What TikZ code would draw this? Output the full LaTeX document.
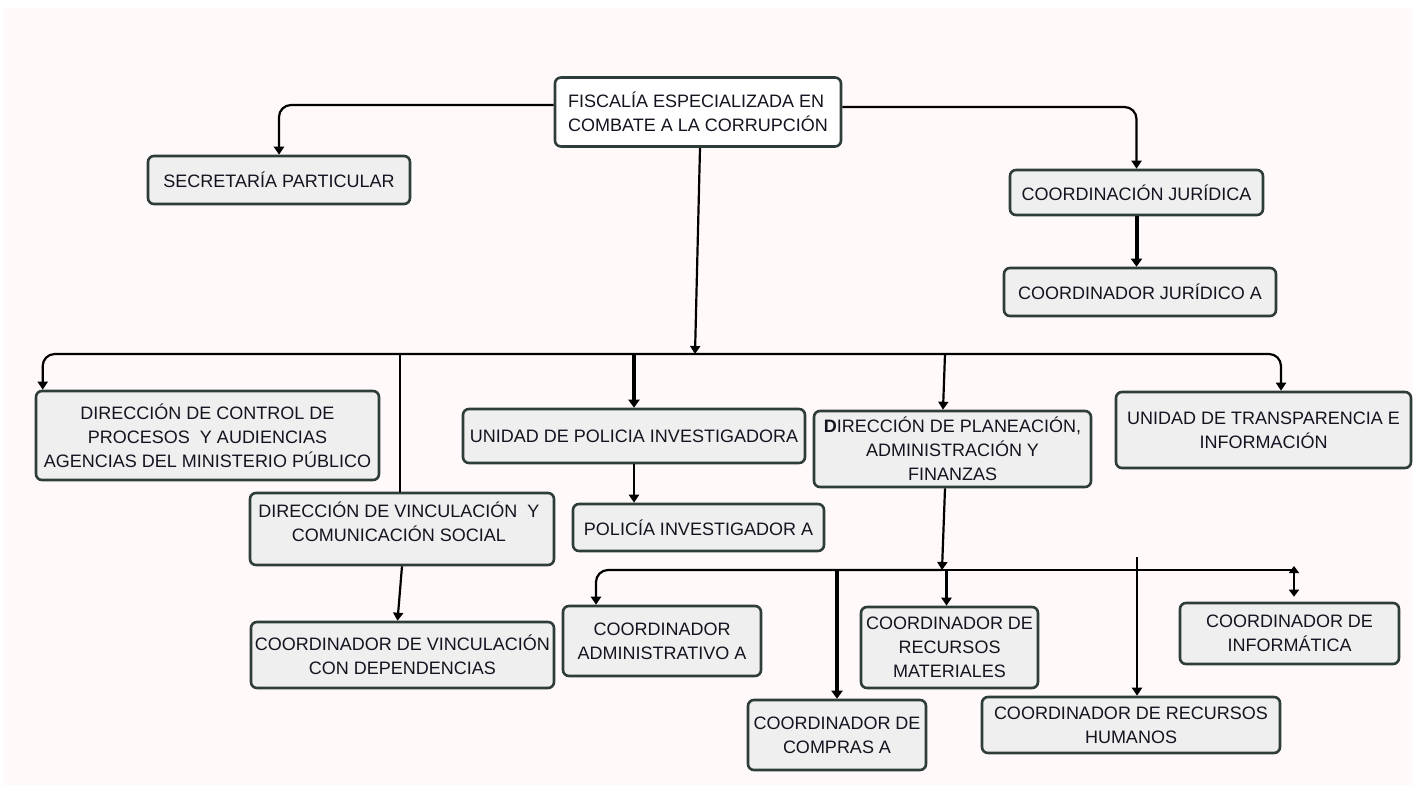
\documentclass[tikz,border=0pt]{standalone}
\usepackage{fontspec}
\setmainfont{Liberation Sans}
\usetikzlibrary{arrows.meta}
\definecolor{bg}{HTML}{FFFAF9}
\definecolor{bord}{HTML}{2E3D39}
\definecolor{boxfill}{HTML}{EFEFEF}
\definecolor{txt}{HTML}{141420}
\begin{document}
\begin{tikzpicture}[x=1pt,y=-1pt,
  box/.style={draw=bord, line width=2.6pt, fill=boxfill, rounded corners=6pt, inner sep=0pt, align=center, text=txt, font=\fontsize{18}{24}\selectfont},
  boxtext/.style={inner sep=0pt, align=center, text=txt, font=\fontsize{18}{24}\selectfont},
  conn/.style={line width=2.2pt, black},
  arr/.style={conn, -{Triangle[width=10pt,length=8pt]}},
  arrthick/.style={line width=4pt, black, -{Triangle[width=11pt,length=8pt]}},
  roundbend/.style={rounded corners=12pt}]
\useasboundingbox (0,0) rectangle (1413,785);
\fill[white] (0,0) rectangle (1413,785);
\fill[bg] (3,8) rectangle (1413,785);

\node[box, fill=white, align=left, minimum width=286pt, minimum height=69pt] (fisc) at (698,112) {FISCALÍA ESPECIALIZADA EN\\COMBATE A LA CORRUPCIÓN};
\node[box, minimum width=262pt, minimum height=48pt] (sec) at (279,180) {SECRETARÍA PARTICULAR};
\node[box, minimum width=253pt, minimum height=45pt] (cj) at (1136.5,192.5) {COORDINACIÓN JURÍDICA};
\node[box, minimum width=272pt, minimum height=48pt] (cja) at (1140,292) {COORDINADOR JURÍDICO A};
\node[box, minimum width=343pt, minimum height=89pt] (dcp) at (207.5,435.5) {DIRECCIÓN DE CONTROL DE\\PROCESOS~ Y AUDIENCIAS\\AGENCIAS DEL MINISTERIO PÚBLICO};
\node[box, minimum width=304pt, minimum height=72pt] (dvc) at (402,529) {};
\node[boxtext] (dvct) at (399,522) {DIRECCIÓN DE VINCULACIÓN~ Y\\COMUNICACIÓN SOCIAL};
\node[box, minimum width=342pt, minimum height=54pt] (upi) at (634,436) {UNIDAD DE POLICIA INVESTIGADORA};
\node[box, minimum width=251pt, minimum height=47pt] (pia) at (698.5,527.5) {POLICÍA INVESTIGADOR A};
\node[box, minimum width=277pt, minimum height=76pt] (dpa) at (952.5,449) {{\bfseries D}IRECCIÓN DE PLANEACIÓN,\\ADMINISTRACIÓN Y\\FINANZAS};
\node[box, minimum width=295pt, minimum height=76pt] (ute) at (1263.5,430) {UNIDAD DE TRANSPARENCIA E\\INFORMACIÓN};
\node[box, minimum width=303pt, minimum height=66pt] (cvd) at (402.5,655) {COORDINADOR DE VINCULACIÓN\\CON DEPENDENCIAS};
\node[box, minimum width=198pt, minimum height=70pt] (cad) at (662,641) {COORDINADOR\\ADMINISTRATIVO A};
\node[box, minimum width=178pt, minimum height=70pt] (cca) at (837,735) {COORDINADOR DE\\COMPRAS A};
\node[box, minimum width=177pt, minimum height=81pt] (crm) at (949.5,647.5) {COORDINADOR DE\\RECURSOS\\MATERIALES};
\node[box, minimum width=298pt, minimum height=56pt] (crh) at (1131,725) {COORDINADOR DE RECURSOS\\HUMANOS};
\node[box, minimum width=219pt, minimum height=61pt] (cinf) at (1289.5,633.5) {COORDINADOR DE\\INFORMÁTICA};

\coordinate (bus1) at (695,354);
\coordinate (bus2) at (942,570);

\draw[arr, roundbend] ([yshift=7pt]fisc.west) -| (sec.north);
\draw[arr, roundbend] ([yshift=5pt]fisc.east) -| (cj.north);
\draw[arrthick] (cj.south) -- (cj.south |- cja.north);
\draw[arr] ([xshift=2pt]fisc.south) -- (bus1);
\draw[arr, roundbend] (bus1) -| ([xshift=8pt]dcp.north west);
\draw[arr, roundbend] (bus1) -| ([xshift=17.5pt]ute.north);
\coordinate (dvcT) at ([xshift=-2pt]dvc.north);
\draw[conn] (dvcT |- bus1) -- (dvcT);
\draw[arr] (dvc.south) -- ([xshift=-5pt]cvd.north);
\draw[arrthick] (upi.north |- bus1) -- (upi.north);
\draw[arr] (upi.south) -- (upi.south |- pia.north);
\coordinate (dpaT) at ([xshift=-9.5pt]dpa.north);
\coordinate (dpaB) at ([xshift=-7.5pt]dpa.south);
\draw[arr] (dpaB |- bus1) -- (dpaT);
\draw[arr] (dpaB) -- (bus2);
\coordinate (cadT) at ([xshift=-66pt]cad.north);
\draw[arr, roundbend] (bus2) -| (cadT);
\coordinate (cinfT) at ([xshift=4.5pt]cinf.north);
\draw[conn] (bus2) -- (cinfT |- bus2);
\draw[conn, {Triangle[width=10pt,length=7pt]}-{Triangle[width=10pt,length=7pt]}] ([yshift=4pt]cinfT |- bus2) -- ([yshift=5pt]cinfT);
\draw[arrthick] (cca.north |- bus2) -- (cca.north);
\draw[arr] ([xshift=-3pt]crm.north |- bus2) -- ([xshift=-3pt]crm.north);
\coordinate (crhT) at ([xshift=6pt]crh.north);
\draw[arr] ([yshift=13pt]crhT |- bus2) -- (crhT);
\end{tikzpicture}
\end{document}
